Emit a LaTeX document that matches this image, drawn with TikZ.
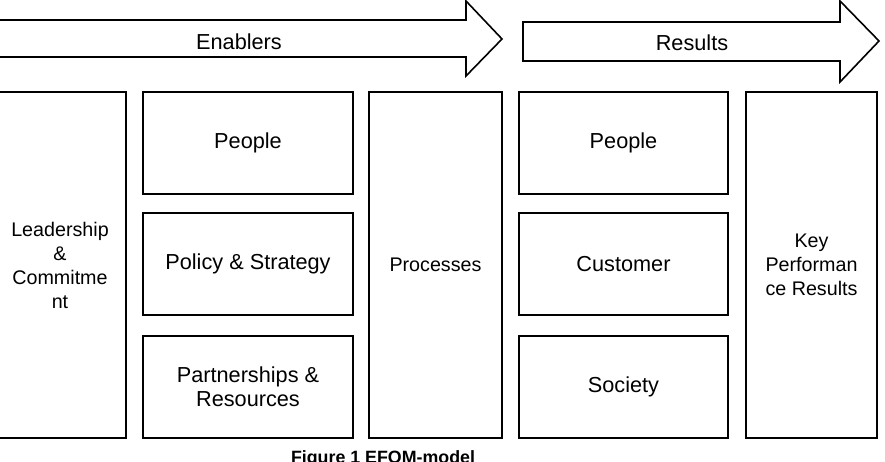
\documentclass[tikz,border=0pt]{standalone}
\usepackage{fontspec}
\setmainfont{Liberation Sans}
\usepackage{tikz}

\tikzset{
  blk/.style={draw,rectangle,inner sep=0pt,align=center,line width=1.6pt},
  big/.style={font=\fontsize{21.7}{24}\selectfont},
  small/.style={font=\fontsize{19.7}{24}\selectfont},
  flow/.style={draw,line width=1.6pt,line join=miter}
}

\begin{document}
\begin{tikzpicture}[x=1pt,y=1pt]
\path[use as bounding box] (0,0) rectangle (885,462);
% top arrows
\draw[flow] (-6,442)--(466,442)--(466,461)--(502,423)--(466,386)--(466,405)--(-6,405);
\draw[flow] (523,440)--(840,440)--(840,461)--(879,421)--(840,380)--(840,401)--(523,401)--cycle;
\node[big] (enablers) at (239,420) {Enablers};
\node[big] (results) at (692,419) {Results};
% enablers
\node[blk,small,minimum width=132,minimum height=346] (lead) at (60,197)
  {Leadership\\\&\\Commitme\\nt};
\node[blk,big,minimum width=210,minimum height=102] (epeople) at (248,319) {People};
\node[blk,big,minimum width=210,minimum height=102] (policy) at (248,198) {Policy \& Strategy};
\node[blk,big,minimum width=210,minimum height=102] (partner) at (248,75) {Partnerships \&\\Resources};
\node[blk,small,minimum width=133,minimum height=346] (proc) at (435.5,197) {Processes};
% results
\node[blk,big,minimum width=209,minimum height=102] (rpeople) at (623.5,319) {People};
\node[blk,big,minimum width=209,minimum height=102] (cust) at (623.5,198) {Customer};
\node[blk,big,minimum width=209,minimum height=102] (soc) at (623.5,75) {Society};
\node[blk,small,minimum width=131,minimum height=346] (kpr) at (811.5,197)
  {Key\\Performan\\ce Results};
% caption
\node[anchor=base,font=\bfseries\fontsize{17.8}{20}\selectfont] (cap) at (383,-2) {Figure 1 EFQM-model};
\end{tikzpicture}
\end{document}
